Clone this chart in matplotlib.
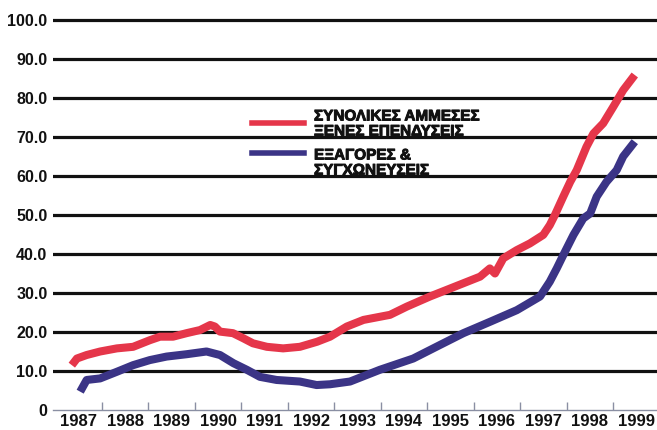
import matplotlib
matplotlib.use("Agg")
import matplotlib.pyplot as plt
import matplotlib.patheffects as pe
from matplotlib.lines import Line2D

# Total FDI and M&A series (index values), sampled along the timeline
fdi_years = [1987.35, 1987.46, 1987.67, 1987.96, 1988.32, 1988.67, 1989.03, 1989.25,
             1989.53, 1989.82, 1990.11, 1990.33, 1990.43, 1990.54, 1990.82, 1991.04,
             1991.25, 1991.55, 1991.90, 1992.26, 1992.63, 1992.91, 1993.27, 1993.63,
             1993.98, 1994.20, 1994.56, 1995.06, 1995.42, 1995.78, 1996.14, 1996.35,
             1996.46, 1996.64, 1996.93, 1997.21, 1997.50, 1997.64, 1997.75, 1997.93,
             1998.08, 1998.22, 1998.43, 1998.58, 1998.79, 1999.01, 1999.22, 1999.47]
fdi_values = [11.5, 13.2, 14.1, 15.0, 15.8, 16.2, 17.9, 18.8,
              18.8, 19.7, 20.5, 21.8, 21.4, 20.1, 19.7, 18.4,
              17.1, 16.2, 15.8, 16.2, 17.5, 18.8, 21.4, 23.1,
              23.9, 24.4, 26.5, 29.1, 30.8, 32.5, 34.2, 36.3,
              35.0, 38.9, 41.0, 42.7, 44.9, 47.4, 50.0, 54.7,
              58.5, 61.5, 67.5, 70.9, 73.5, 77.8, 82.0, 85.9]

ma_years = [1987.53, 1987.67, 1987.96, 1988.32, 1988.67, 1989.03, 1989.39, 1989.82,
            1990.25, 1990.54, 1990.83, 1991.12, 1991.40, 1991.76, 1992.26, 1992.62,
            1992.91, 1993.34, 1993.98, 1994.70, 1995.28, 1995.78, 1996.35, 1996.93,
            1997.43, 1997.64, 1997.79, 1997.93, 1998.15, 1998.36, 1998.51, 1998.65,
            1998.86, 1999.08, 1999.22, 1999.47]
ma_values = [4.7, 7.7, 8.1, 9.8, 11.5, 12.8, 13.7, 14.3,
             15.0, 14.1, 12.0, 10.3, 8.5, 7.7, 7.3, 6.4,
             6.6, 7.3, 10.3, 13.2, 16.7, 19.7, 22.6, 25.6,
             29.1, 32.9, 36.3, 39.7, 44.9, 49.1, 50.4, 54.7,
             58.5, 61.5, 65.0, 68.8]

year_labels = ["1987", "1988", "1989", "1990", "1991", "1992", "1993",
               "1994", "1995", "1996", "1997", "1998", "1999"]
y_ticks = [0, 10, 20, 30, 40, 50, 60, 70, 80, 90, 100]
y_tick_labels = ["0", "10.0", "20.0", "30.0", "40.0", "50.0", "60.0",
                 "70.0", "80.0", "90.0", "100.0"]
legend_labels = ["ΣΥΝΟΛΙΚΕΣ ΑΜΜΕΣΕΣ\nΞΕΝΕΣ ΕΠΕΝΔΥΣΕΙΣ", "ΕΞΑΓΟΡΕΣ &\nΣΥΓΧΩΝΕΥΣΕΙΣ"]

RED = "#e5364a"
BLUE = "#3b3486"
FONT = ["Liberation Sans", "DejaVu Sans"]

W, H = 657, 430
fig = plt.figure(figsize=(W / 100, H / 100), dpi=100)
fig.patch.set_facecolor("white")

left_px, bottom_px = 53, 410
px_per_unit = 3.9
ymax = 101.5
top_px = bottom_px - ymax * px_per_unit
ax = fig.add_axes([left_px / W, (H - bottom_px) / H, 1 - left_px / W,
                   (bottom_px - top_px) / H])

year_px = 46.45
x0 = 1988 - (102 - left_px) / year_px
x1 = 1988 + (W - 102) / year_px
ax.set_xlim(x0, x1)
ax.set_ylim(0, ymax)

# horizontal rules
for v in y_ticks[1:]:
    ax.axhline(v, color="#111111", lw=2.3, zorder=1)

ax.plot(fdi_years, fdi_values, color=RED, lw=5.8, solid_capstyle="butt", zorder=3)
ax.plot(ma_years, ma_values, color=BLUE, lw=5.8, solid_capstyle="butt", zorder=3)

for s in ["top", "right", "left"]:
    ax.spines[s].set_visible(False)
ax.spines["bottom"].set_color("#8a8fa3")
ax.spines["bottom"].set_linewidth(1.0)

ax.set_yticks(y_ticks)
ax.set_yticklabels(y_tick_labels, fontfamily=FONT, fontweight="bold", fontsize=11.5,
                   color="#111111")
ax.tick_params(axis="y", length=0, pad=4)

ax.set_xticks([1988 + i for i in range(12)])
ax.set_xticklabels([])
ax.set_xticks([1987.5 + i for i in range(13)], minor=True)
ax.set_xticklabels(year_labels, minor=True, fontfamily=FONT, fontweight="bold",
                   fontsize=12, color="#111111")
ax.tick_params(axis="x", which="major", direction="in", length=6, color="#8a8fa3", width=1)
ax.tick_params(axis="x", which="minor", length=0, pad=3)

# legend drawn by hand
def fx(px):
    return px / W

def fy(py):
    return 1 - py / H

fig.add_artist(Line2D([fx(252), fx(304)], [fy(123), fy(123)], color=RED, lw=4,
                      transform=fig.transFigure))
fig.add_artist(Line2D([fx(252), fx(304)], [fy(153), fy(153)], color=BLUE, lw=4,
                      transform=fig.transFigure))
heavy = [pe.withStroke(linewidth=0.7, foreground="#111111")]
fig.text(fx(314), fy(124), legend_labels[0], ha="left", va="center",
         fontfamily=FONT, fontweight="bold", fontsize=11, linespacing=1.1,
         color="#111111", path_effects=heavy)
fig.text(fx(314), fy(163), legend_labels[1], ha="left", va="center",
         fontfamily=FONT, fontweight="bold", fontsize=11, linespacing=1.1,
         color="#111111", path_effects=heavy)

fig.savefig("out.png", dpi=100)
